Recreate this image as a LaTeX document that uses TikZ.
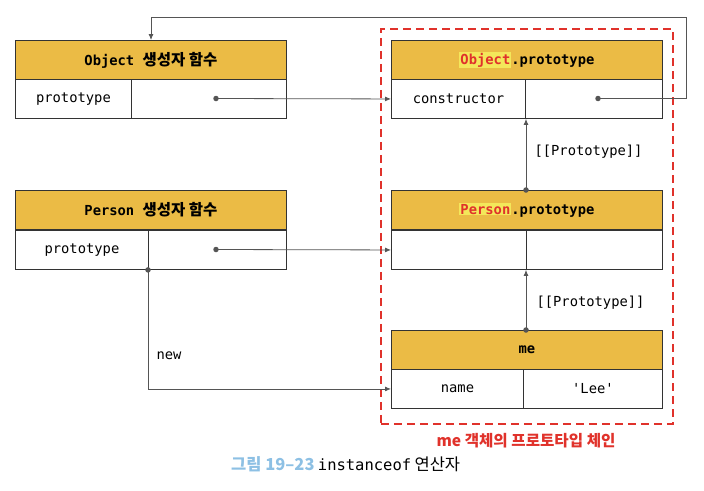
\documentclass[tikz,border=0pt]{standalone}
\usepackage{fontspec}
\setmonofont{DejaVu Sans Mono}
\newfontfamily\kr{Noto Sans CJK KR}
\usetikzlibrary{arrows.meta}
\definecolor{gold}{HTML}{EBBB45}
\definecolor{boxc}{HTML}{333333}
\definecolor{linec}{HTML}{555555}
\definecolor{redc}{HTML}{E0322B}
\definecolor{hl}{HTML}{F3E75A}
\definecolor{capblue}{HTML}{8DC0E4}
\newcommand{\hfont}{\fontsize{13.8}{16}\selectfont\ttfamily\bfseries}
\newcommand{\mfont}{\fontsize{13.8}{16}\selectfont\ttfamily}
\newcommand{\krh}[1]{{\kr\bfseries\fontsize{15.5}{16}\selectfont #1}}
\newcommand{\hlred}[1]{{\setlength{\fboxsep}{1pt}\colorbox{hl}{\textcolor{redc}{#1}}}}
\begin{document}
\begin{tikzpicture}[x=1pt,y=-1pt,
  hdr/.style={draw=boxc, fill=gold, line width=0.9pt, minimum height=39pt, anchor=north west, inner sep=0pt, font=\hfont},
  cell/.style={draw=boxc, fill=white, line width=0.9pt, minimum height=39pt, anchor=north west, inner sep=0pt, font=\mfont},
  conn/.style={draw=linec, line width=0.8pt, -{Latex[length=6pt,width=5pt]}},
  dotc/.style={circle, fill=linec, inner sep=0pt, minimum size=5.5pt},
  lbl/.style={font=\mfont, text=black}]
\useasboundingbox (0,0) rectangle (704,490);
% red dashed chain frame
\node[draw=redc, line width=1.8pt, dash pattern=on 8pt off 5pt, minimum width=292pt, minimum height=395pt, anchor=north west, inner sep=0pt] (frame) at (380,28) {};
% Object constructor
\node[hdr, minimum width=271pt] (och) at (15,40) {Object \krh{생성자 함수}};
\node[cell, minimum width=116pt] (ocl) at (15,79) {prototype};
\node[cell, minimum width=155pt] (ocr) at (131,79) {};
% Person constructor
\node[hdr, minimum width=271pt] (pch) at (15,190) {Person \krh{생성자 함수}};
\node[cell, minimum width=133pt] (pcl) at (15,230) {prototype};
\node[cell, minimum width=138pt] (pcr) at (148,230) {};
% Object.prototype
\node[hdr, minimum width=271pt] (oph) at (391,40) {\hlred{Object}.prototype};
\node[cell, minimum width=134pt] (opl) at (391,79) {constructor};
\node[cell, minimum width=137pt] (opr) at (525,79) {};
% Person.prototype
\node[hdr, minimum width=271pt] (pph) at (391,190) {\hlred{Person}.prototype};
\node[cell, minimum width=135pt] (ppl) at (391,230) {};
\node[cell, minimum width=136pt] (ppr) at (526,230) {};
% me
\node[hdr, minimum width=271pt] (meh) at (391,330) {me};
\node[cell, minimum width=132pt] (mel) at (391,369) {name};
\node[cell, minimum width=139pt] (mer) at (523,369) {'Lee'};
% dots
\node[dotc] (ocd) at (216,98.5) {};
\node[dotc] (opd) at (598,98.5) {};
\node[dotc] (pcd) at (216,249.5) {};
\node[dotc] (pnd) at (pcr.south west) {};
\node[dotc] (ppd) at (526,190) {};
\node[dotc] (med) at (526,330) {};
% route coordinates
\coordinate (t1) at (686,17);
\coordinate (t2) at (151,17);
% connectors
\draw[conn] (ocd.center) -- (opl.west);
\draw[conn] (opd.center) -- (opd.center -| t1) -- (t1) -- (t2) -- (t2 |- och.north);
\draw[conn] (ppd.center) -- (ppd.center |- opr.south);
\draw[conn] (pcd.center) -- (ppl.west);
\draw[conn] (med.center) -- (med.center |- ppr.south);
\draw[conn] (pnd.center) -- (pnd.center |- mel.west) -- (mel.west);
% labels
\node[lbl, anchor=west] (l1) at (531,152) {[[Prototype]]};
\node[lbl, anchor=west] (l2) at (533,303) {[[Prototype]]};
\node[lbl, anchor=west] (l3) at (153,356) {new};
\node[font=\kr\bfseries\fontsize{15.6}{18}\selectfont, text=redc] (chain) at (526,441) {me 객체의 프로토타입 체인};
\node[anchor=west, inner sep=0pt] (cap) at (231,464) {{\kr\bfseries\fontsize{16.5}{18}\selectfont\color{capblue}그림 19–23} {\ttfamily\fontsize{15.5}{18}\selectfont instanceof} {\kr\fontsize{16.5}{18}\selectfont 연산자}};
\end{tikzpicture}
\end{document}
